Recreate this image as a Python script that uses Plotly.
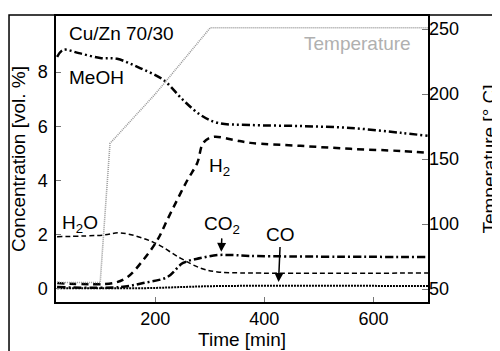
import plotly.graph_objects as go

# ---- data ----
t_meoh = [20, 31, 60, 99, 130, 172, 215, 251, 283, 314, 374, 466, 558, 650, 700]
c_meoh = [8.56, 8.82, 8.7, 8.52, 8.49, 8.15, 7.71, 6.97, 6.42, 6.13, 6.05, 6.01, 5.94, 5.76, 5.65]

t_h2 = [20, 123, 149, 178, 204, 222, 240, 259, 277, 288, 306, 343, 374, 466, 558, 650, 700]
c_h2 = [0.22, 0.22, 0.44, 1.07, 1.81, 2.55, 3.28, 4.02, 4.65, 5.39, 5.61, 5.50, 5.39, 5.28, 5.17, 5.09, 5.02]

t_h2o = [20, 105, 136, 196, 246, 283, 314, 374, 700]
c_h2o = [1.93, 1.99, 2.07, 1.73, 1.14, 0.77, 0.63, 0.59, 0.59]

t_co2 = [20, 136, 178, 222, 251, 283, 314, 343, 374, 700]
c_co2 = [0.07, 0.07, 0.22, 0.44, 0.96, 1.14, 1.25, 1.25, 1.22, 1.18]

t_co = [20, 180, 260, 320, 700]
c_co = [0.03, 0.03, 0.08, 0.11, 0.11]

t_temp = [20, 99, 117, 200, 301, 700]
T_temp = [55, 55, 162, 200, 251, 251]

x_ticks = [200, 400, 600]
y_ticks = [0, 2, 4, 6, 8]
y2_ticks = [50, 100, 150, 200, 250]

FONT = "Liberation Sans, Arial, Helvetica, sans-serif"

fig = go.Figure()

fig.add_trace(go.Scatter(x=t_temp, y=T_temp, yaxis="y2", mode="lines",
                         line=dict(color="#999999", width=1.6, dash="1px,1px")))
fig.add_trace(go.Scatter(x=t_h2o, y=c_h2o, mode="lines", line_shape="spline",
                         line=dict(color="black", width=1.5, dash="5px,3px")))
fig.add_trace(go.Scatter(x=t_co, y=c_co, mode="lines", line_shape="spline",
                         line=dict(color="black", width=2, dash="2px,1px")))
fig.add_trace(go.Scatter(x=t_co2, y=c_co2, mode="lines", line_shape="spline",
                         line=dict(color="black", width=2.5, dash="8px,3px,2px,3px")))
fig.add_trace(go.Scatter(x=t_h2, y=c_h2, mode="lines", line_shape="spline",
                         line=dict(color="black", width=2.5, dash="7px,5px")))
fig.add_trace(go.Scatter(x=t_meoh, y=c_meoh, mode="lines", line_shape="spline",
                         line=dict(color="black", width=2.5, dash="8px,3px,2px,3px,2px,3px")))

tf = dict(family=FONT, size=18, color="black")
fig.update_layout(
    width=492, height=343,
    margin=dict(l=48, r=72, t=8, b=49),
    paper_bgcolor="white", plot_bgcolor="white",
    showlegend=False, hovermode=False, dragmode=False,
    font=dict(family=FONT, size=19, color="black"),
    xaxis=dict(range=[18, 700], tickvals=x_ticks, ticks="inside", ticklen=5,
               tickcolor="#777", tickwidth=1, showgrid=False, zeroline=False,
               showline=True, linecolor="black", linewidth=1.5, mirror=True,
               tickfont=tf, automargin=False,
               title=dict(text="Time [min]", font=dict(family=FONT, size=19), standoff=4)),
    yaxis=dict(range=[-0.48, 10.07], tickvals=y_ticks, ticks="inside", ticklen=5,
               tickcolor="#777", tickwidth=1, showgrid=False, zeroline=False,
               showline=True, linecolor="black", linewidth=1.5, mirror=True,
               tickfont=tf, automargin=False, ticklabelstandoff=3,
               title=dict(text="Concentration [vol. %]", font=dict(family=FONT, size=19), standoff=7)),
    yaxis2=dict(range=[40, 260], tickvals=y2_ticks, overlaying="y", side="right",
                ticks="inside", ticklen=6, tickcolor="#777", tickwidth=1,
                showgrid=False, zeroline=False, tickfont=tf, automargin=False,
                title=dict(text="Temperature [° C]", font=dict(family=FONT, size=19), standoff=31)),
)

def label(x, y, text, xanchor="left", color="black"):
    fig.add_annotation(x=x, y=y, xref="x", yref="y", text=text, showarrow=False,
                       xanchor=xanchor, yanchor="middle",
                       font=dict(family=FONT, size=19, color=color))

label(38.5, 9.41, "Cu/Zn 70/30")
label(38.5, 7.79, "MeOH")
label(318, 4.50, "H<sub>2</sub>", xanchor="center")
label(25.7, 2.40, "H<sub>2</sub>O")
label(673, 9.04, "Temperature", xanchor="right", color="#b0b0b0")

# labels with arrows pointing at the curves
fig.add_annotation(x=321, y=1.37, xref="x", yref="y", text="CO<sub>2</sub>",
                   showarrow=True, ax=1, ay=-27, arrowhead=2, arrowsize=1.2,
                   arrowwidth=1.5, arrowcolor="black",
                   font=dict(family=FONT, size=19, color="black"))
fig.add_annotation(x=426, y=0.26, xref="x", yref="y", text="CO",
                   showarrow=True, ax=2, ay=-47, arrowhead=2, arrowsize=1.2,
                   arrowwidth=1.5, arrowcolor="black",
                   font=dict(family=FONT, size=19, color="black"))

# outer frame of the original figure (left and top edges visible)
fig.add_shape(type="rect", xref="paper", yref="paper", x0=-0.1263, x1=1.3,
              y0=-0.3, y1=1.0035, line=dict(color="black", width=1.5),
              fillcolor="rgba(0,0,0,0)", layer="above")

fig.write_html("out.html")
